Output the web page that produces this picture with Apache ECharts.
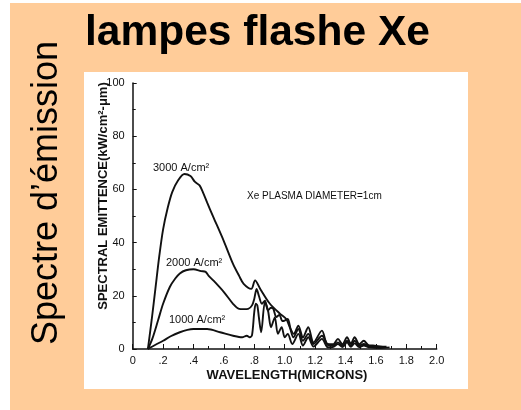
<!DOCTYPE html>
<html><head><meta charset="utf-8">
<script src="https://cdn.jsdelivr.net/npm/echarts@6/dist/echarts.min.js"></script>
<style>html,body{margin:0;padding:0;background:#fff}#c{width:521px;height:410px}</style>
</head><body><div id="c"></div>
<script>
const xTickLabels = ['0','.2','.4','.6','.8','1.0','1.2','1.4','1.6','1.8','2.0'];
const yTickLabels = ['0','20','40','60','80','100'];

const wl3000 = [0.10,0.125,0.15,0.175,0.20,0.23,0.26,0.30,0.34,0.38,0.41,0.44,0.465,0.49,0.53,0.60,0.66,0.70,0.73,0.78,0.805,0.84,0.90,0.97,1.01,1.035,1.06,1.09,1.12,1.155,1.19,1.245,1.28,1.32,1.35,1.38,1.41,1.435,1.46,1.49,1.52,1.55,1.58,1.63,1.67];
const em3000 = [0,11,23,35,45,53,59,63.5,65.8,65,62.8,61.5,58.5,55,49.7,40.5,32,27.5,24.5,22.6,25.8,22.5,17.2,13.2,11.3,8,5.7,8.8,4.4,8.2,2.5,6.9,1.9,1.8,3.8,1.8,4.4,2,4.4,1.8,3.1,1.5,1.3,1.0,0.9];

const wl2000 = [0.10,0.13,0.168,0.20,0.245,0.28,0.31,0.35,0.40,0.45,0.48,0.50,0.53,0.60,0.66,0.70,0.73,0.76,0.785,0.80,0.815,0.83,0.85,0.87,0.89,0.91,0.925,0.945,0.965,0.985,1.00,1.02,1.04,1.057,1.09,1.12,1.155,1.19,1.245,1.29,1.32,1.35,1.38,1.41,1.435,1.46,1.49,1.52,1.56,1.63];
const em2000 = [0,4,11,17,23.4,26.5,28.4,29.6,30,29.3,29,27.5,25.8,21.4,17,15.1,15,15.1,16.4,18.9,22.6,20,17,18.2,14.5,15.5,15.1,12,12.8,10.5,10.7,11.3,7,4.4,7.5,3.1,5.7,1.9,5.0,1.3,1.3,2.5,1.2,3.1,1.3,3.1,1.2,1.9,1.0,0.6];

const wl1000 = [0.10,0.15,0.20,0.25,0.31,0.36,0.40,0.49,0.575,0.66,0.72,0.75,0.77,0.785,0.80,0.81,0.82,0.83,0.845,0.87,0.89,0.91,0.935,0.955,0.98,1.00,1.02,1.05,1.09,1.12,1.155,1.19,1.245,1.285,1.32,1.35,1.38,1.41,1.435,1.46,1.49,1.52,1.56,1.63,1.69];
const em1000 = [0,1.6,3.1,4.8,6.3,7.2,7.5,7.5,6.3,5.0,4.4,5.0,4.4,5.2,14,17,16.4,12,6.3,17.6,14.5,8.2,11.9,5.7,8.2,4.4,5.7,1.9,5.7,1.3,4.4,0.9,3.8,0.6,0.8,1.9,0.7,2.5,0.8,2.1,0.7,1.3,0.6,0.4,0.6];

const seriesNames = ['3000 A/cm²','2000 A/cm²','1000 A/cm²'];
const noteText = 'Xe PLASMA DIAMETER=1cm';

function pairs(xs, ys){ return xs.map((x,i)=>[x, ys[i]]); }

const scanFont = '"Liberation Sans Narrow","Liberation Sans",Arial,sans-serif';
const chart = echarts.init(document.getElementById('c'), null, {renderer:'canvas'});
const lineStyle = {color:'#111', width:1.9};
chart.setOption({
  backgroundColor:'#ffffff',
  animation:false,
  grid:{left:132.7, right:84.3, top:83, bottom:61, containLabel:false},
  xAxis:{type:'value', min:0, max:2.0, interval:0.2,
    axisLine:{show:true, lineStyle:{color:'#111', width:1.5}},
    axisTick:{show:true, inside:true, length:5, lineStyle:{color:'#111'}},
    minorTick:{show:true, splitNumber:2, length:3, lineStyle:{color:'#111'}},
    splitLine:{show:false},
    axisLabel:{margin:6, color:'#111', fontSize:11, fontFamily:scanFont,
      formatter:v=>xTickLabels[Math.round(v/0.2)]}},
  yAxis:{type:'value', min:0, max:100, interval:20,
    axisLine:{show:true, lineStyle:{color:'#111', width:1.5}},
    axisTick:{show:true, inside:true, length:4, lineStyle:{color:'#111'}},
    minorTick:{show:true, splitNumber:2, length:3, lineStyle:{color:'#111'}},
    splitLine:{show:false},
    axisLabel:{margin:8, color:'#111', fontSize:11, fontFamily:scanFont,
      formatter:v=>yTickLabels[Math.round(v/20)]}},
  series:[
    {name:seriesNames[0], type:'line', data:pairs(wl3000,em3000), smooth:0.3, symbol:'none', lineStyle:lineStyle, z:5},
    {name:seriesNames[1], type:'line', data:pairs(wl2000,em2000), smooth:0.3, symbol:'none', lineStyle:lineStyle, z:5},
    {name:seriesNames[2], type:'line', data:pairs(wl1000,em1000), smooth:0.3, symbol:'none', lineStyle:lineStyle, z:5}
  ],
  graphic:[
    {type:'rect', z:-10, silent:true, shape:{x:10,y:3,width:511,height:407}, style:{fill:'#FFCC99'}},
    {type:'rect', z:-9, silent:true, shape:{x:84,y:72,width:384,height:317}, style:{fill:'#ffffff'}},
    {type:'text', z:10, x:85, y:33, style:{text:'lampes flashe Xe', font:'bold 42.5px "Liberation Sans",Arial,sans-serif', fill:'#000', verticalAlign:'middle', align:'left'}},
    {type:'text', z:10, x:47, y:193, rotation:Math.PI/2, style:{text:'Spectre d’émission', font:'36px "Liberation Sans",Arial,sans-serif', fill:'#000', verticalAlign:'middle', align:'center'}},
    {type:'text', z:10, x:103, y:196, rotation:Math.PI/2, style:{text:'SPECTRAL EMITTENCE(kW/cm²-μm)', font:'bold 13px '+scanFont, fill:'#111', verticalAlign:'middle', align:'center'}},
    {type:'text', z:10, x:287, y:375, style:{text:'WAVELENGTH(MICRONS)', font:'bold 13px '+scanFont, fill:'#111', verticalAlign:'middle', align:'center'}},
    {type:'text', z:10, x:153, y:168, style:{text:seriesNames[0], font:'11px '+scanFont, fill:'#111', verticalAlign:'middle', align:'left'}},
    {type:'text', z:10, x:166, y:263, style:{text:seriesNames[1], font:'11px '+scanFont, fill:'#111', verticalAlign:'middle', align:'left'}},
    {type:'text', z:10, x:169, y:320, style:{text:seriesNames[2], font:'11px '+scanFont, fill:'#111', verticalAlign:'middle', align:'left'}},
    {type:'text', z:10, x:247, y:196, style:{text:noteText, font:'10px '+scanFont, fill:'#111', verticalAlign:'middle', align:'left'}}
  ]
});
</script></body></html>
